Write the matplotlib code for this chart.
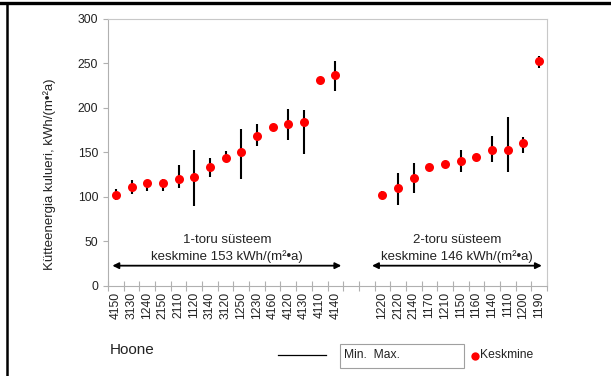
import numpy as np
import matplotlib
matplotlib.use('Agg')
import matplotlib.pyplot as plt
from matplotlib.lines import Line2D
from matplotlib.patches import Rectangle

plt.rcParams['font.family'] = ['Liberation Sans', 'DejaVu Sans']

# 1-toru system buildings
names_1 = ['4150', '3130', '1240', '2150', '2110', '1120', '3140', '3120',
           '1250', '1230', '4160', '4120', '4130', '4110', '4140']
mean_1 = [102, 111, 115, 116, 120, 122, 133, 143, 150, 168, 178, 182, 184, 231, 237]
min_1 = [96, 103, 106, 107, 110, 90, 122, 140, 120, 157, 177, 164, 148, 230, 219]
max_1 = [109, 119, 119, 120, 136, 153, 143, 151, 176, 182, 179, 198, 197, 232, 252]

# 2-toru system buildings
names_2 = ['1220', '2120', '2140', '1170', '1210', '1150', '1160', '1140',
           '1110', '1200', '1190']
mean_2 = [102, 110, 121, 134, 137, 140, 145, 153, 153, 160, 252]
min_2 = [98, 91, 104, 131, 132, 128, 142, 139, 128, 149, 245]
max_2 = [106, 127, 138, 137, 140, 153, 147, 168, 190, 167, 258]

gap = 2  # empty category slots between the two groups

x1 = np.arange(len(names_1))
x2 = np.arange(len(names_2)) + len(names_1) + gap
n_slots = len(names_1) + gap + len(names_2)
labels = names_1 + [''] * gap + names_2

fig = plt.figure(figsize=(6.11, 3.76), dpi=100)
ax = fig.add_axes([108 / 611, 1 - 286 / 376, 439 / 611, 267.5 / 376])

grey = '#b0b0b0'
for xs, lo, hi, mu in [(x1, min_1, max_1, mean_1), (x2, min_2, max_2, mean_2)]:
    ax.vlines(xs, lo, hi, color='black', lw=1.5, zorder=2)
    ax.plot(xs, mu, 'o', color='#ff0000', ms=6.5, mec='none', zorder=3)

ax.set_xlim(-0.5, n_slots - 0.5)
ax.set_ylim(0, 300)
ax.set_yticks(range(0, 301, 50))
ax.set_xticks(np.arange(n_slots))
ax.set_xticklabels(labels, rotation=90)
ax.set_xticks(np.arange(n_slots + 1) - 0.5, minor=True)
ax.tick_params(axis='x', which='major', length=0, pad=4, labelsize=8.7, labelcolor='#222222')
ax.tick_params(axis='x', which='minor', length=6.5, direction='inout', color=grey, width=0.8)
ax.tick_params(axis='y', length=3.5, color=grey, width=0.8, labelsize=8.7, labelcolor='#222222')
for s in ax.spines.values():
    s.set_color('#c8c8c8')
    s.set_linewidth(0.8)
ax.spines['left'].set_color(grey)
ax.spines['bottom'].set_color(grey)

ax.set_ylabel('Kütteenergia kulueri, kWh/(m•²a)', fontsize=9.5, color='#222222')
ax.yaxis.set_label_coords(-0.118, 0.418)

# group arrows and notes
arrow_y = 22.8
for x_lo, x_hi, line1, line2 in [(-0.22, 14.38, '1-toru süsteem', 'keskmine 153 kWh/(m²•a)'),
                                 (16.34, 27.17, '2-toru süsteem', 'keskmine 146 kWh/(m²•a)')]:
    ax.annotate('', xy=(x_hi, arrow_y), xytext=(x_lo, arrow_y),
                arrowprops=dict(arrowstyle='<|-|>', color='black', lw=1.3,
                                mutation_scale=9, shrinkA=0, shrinkB=0))
    xc = (x_lo + x_hi) / 2
    ax.text(xc, 51.5, line1, ha='center', va='center', fontsize=9.5, color='#222222')
    ax.text(xc, 33.5, line2, ha='center', va='center', fontsize=9.5, color='#222222')

# bottom labels and legend drawn in figure pixels
def fx(px):
    return px / 611

def fy(py):
    return 1 - py / 376

fig.text(fx(110), fy(350), 'Hoone', fontsize=11, va='center', ha='left', color='#222222')
fig.add_artist(Line2D([fx(278), fx(326)], [fy(355), fy(355)], color='black', lw=0.9))
fig.add_artist(Rectangle((fx(340), fy(368)), fx(124), 24 / 376, fill=False,
                         edgecolor='#a0a0a0', lw=0.8))
fig.text(fx(344), fy(355), 'Min.  Max.', fontsize=8.7, va='center', ha='left', color='#222222')
fig.add_artist(Line2D([fx(474.5)], [fy(355.5)], marker='o', color='#ff0000', ms=6, mec='none'))
fig.text(fx(480), fy(355), 'Keskmine', fontsize=8.7, va='center', ha='left', color='#222222')

# page frame lines
fig.add_artist(Line2D([0, 1], [fy(3), fy(3)], color='black', lw=2.4))
fig.add_artist(Line2D([fx(7.5), fx(7.5)], [0, fy(3)], color='black', lw=1.8))

fig.savefig('out.png', dpi=100)
